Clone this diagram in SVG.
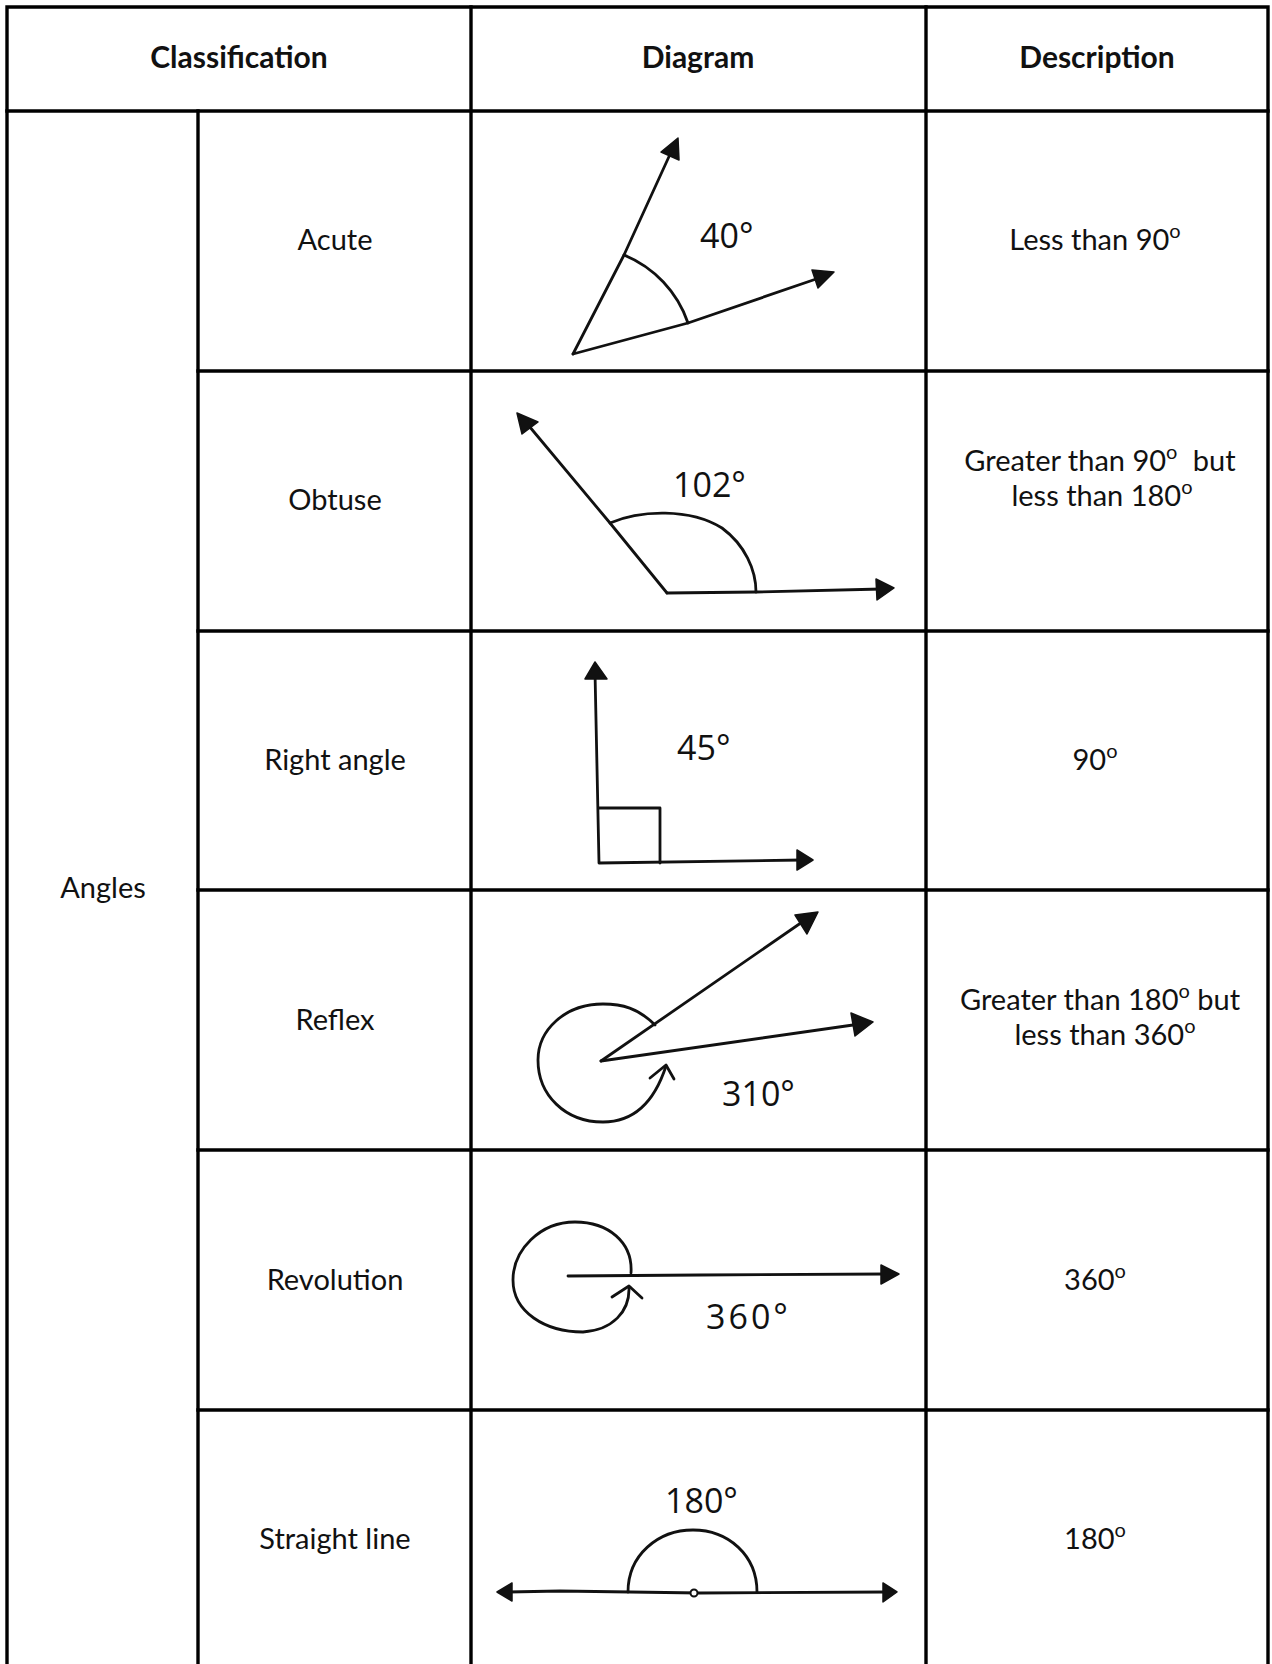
<svg xmlns="http://www.w3.org/2000/svg" width="1272" height="1664" viewBox="0 0 1272 1664">
<style>
.grid{stroke:#000;stroke-width:3.4;fill:none;stroke-linecap:square}
.hd{font-family:Lato,"Open Sans","Noto Sans",sans-serif;font-weight:bold;font-size:30px;fill:#111;text-anchor:middle}
.tx{font-family:Lato,"Open Sans","Noto Sans",sans-serif;font-size:29px;fill:#111;text-anchor:middle}
.sup{font-size:20px}
.ink{stroke:#111;stroke-width:2.8;fill:none;stroke-linecap:round;stroke-linejoin:round}
.head{fill:#111;stroke:#111;stroke-width:1.5;stroke-linejoin:round}
.hw{font-family:"Open Sans","DejaVu Sans",sans-serif;font-weight:normal;font-size:34px;fill:#111}
</style>
<rect width="1272" height="1664" fill="#fff"/>
<g id="table-grid" class="grid">
  <path d="M7,1664 V7 H1268 V1664"/>
  <path d="M7,111 H1268"/>
  <path d="M198,111 V1664"/>
  <path d="M471,7 V1664"/>
  <path d="M926,7 V1664"/>
  <path d="M198,371 H1268 M198,631 H1268 M198,890 H1268 M198,1150 H1268 M198,1410 H1268"/>
</g>
<g id="header">
  <text class="hd" x="239" y="68">Classification</text>
  <text class="hd" x="698" y="68">Diagram</text>
  <text class="hd" x="1097" y="68">Description</text>
</g>
<g id="angles-label">
  <text class="tx" x="103" y="898">Angles</text>
</g>
<g id="row-acute">
  <text class="tx" x="335" y="250">Acute</text>
  <g id="diagram-acute">
    <polyline class="ink" points="573,354 624,255 672,150"/>
    <polyline class="ink" points="573,354 688,323 822,277"/>
    <path class="ink" d="M624,255 A113 113 0 0 1 688,323"/>
    <polygon class="head" points="678,138 679,160 661,152"/>
    <polygon class="head" points="834,272 818,288 812,270"/>
    <text class="hw" x="700" y="248" font-size="37">40°</text>
  </g>
  <text class="tx" x="1095" y="250">Less than 90<tspan class="sup" dy="-12">o</tspan></text>
</g>
<g id="row-obtuse">
  <text class="tx" x="335" y="510">Obtuse</text>
  <g id="diagram-obtuse">
    <polyline class="ink" points="667,593 610,523 524,420"/>
    <polyline class="ink" points="667,593 756,592 882,589"/>
    <path class="ink" d="M610,523 C640,510 690,508 722,528 C745,545 756,570 756,592"/>
    <polygon class="head" points="517,413 538,422 522,434"/>
    <polygon class="head" points="894,588 876,579 877,600"/>
    <text class="hw" x="673" y="497" font-size="32">102°</text>
  </g>
  <text class="tx" x="1100" y="471">Greater than 90<tspan class="sup" dy="-12">o</tspan><tspan dy="12" dx="8"> but</tspan></text>
  <text class="tx" x="1102" y="506">less than 180<tspan class="sup" dy="-12">o</tspan></text>
</g>
<g id="row-right">
  <text class="tx" x="335" y="770">Right angle</text>
  <g id="diagram-right">
    <polyline class="ink" points="595,672 599,863 802,860"/>
    <polyline class="ink" points="599,808 660,808 660,863"/>
    <polygon class="head" points="595,662 607,679 585,679"/>
    <polygon class="head" points="813,860 797,870 797,850"/>
    <text class="hw" x="677" y="760" font-size="31">45°</text>
  </g>
  <text class="tx" x="1095" y="770">90<tspan class="sup" dy="-12">o</tspan></text>
</g>
<g id="row-reflex">
  <text class="tx" x="335" y="1030">Reflex</text>
  <g id="diagram-reflex">
    <polyline class="ink" points="601,1061 808,918"/>
    <polyline class="ink" points="601,1061 860,1024"/>
    <path class="ink" d="M655,1025 C638,1008 622,1004 603,1004 C565,1004 538,1030 538,1060 C538,1095 565,1122 603,1122 C635,1122 655,1100 666,1066"/>
    <polyline class="ink" points="650,1078 666,1065 674,1079"/>
    <polygon class="head" points="818,912 807,934 795,915"/>
    <polygon class="head" points="873,1022 855,1036 851,1013"/>
    <text class="hw" x="722" y="1106" font-size="31">310°</text>
  </g>
  <text class="tx" x="1100" y="1010">Greater than 180<tspan class="sup" dy="-12">o</tspan><tspan dy="12"> but</tspan></text>
  <text class="tx" x="1105" y="1045">less than 360<tspan class="sup" dy="-12">o</tspan></text>
</g>
<g id="row-revolution">
  <text class="tx" x="335" y="1290">Revolution</text>
  <g id="diagram-revolution">
    <polyline class="ink" points="568,1276 700,1275 887,1274"/>
    <path class="ink" d="M631,1273 C633,1242 608,1222 575,1222 C540,1222 513,1250 513,1280 C513,1312 545,1332 583,1332 C612,1330 630,1312 629,1287"/>
    <polyline class="ink" points="612,1297 629,1286 642,1298"/>
    <polygon class="head" points="899,1274 881,1265 881,1284"/>
    <text class="hw" x="706" y="1329" font-size="35" letter-spacing="3">360°</text>
  </g>
  <text class="tx" x="1095" y="1290">360<tspan class="sup" dy="-12">o</tspan></text>
</g>
<g id="row-straight">
  <text class="tx" x="335" y="1549">Straight line</text>
  <g id="diagram-straight">
    <polyline class="ink" points="508,1592 560,1591 700,1593 886,1592"/>
    <path class="ink" d="M628,1592 C628,1555 658,1530 693,1530 C728,1530 757,1555 757,1592"/>
    <circle cx="694" cy="1593" r="3.5" fill="#fff" stroke="#111" stroke-width="2"/>
    <polygon class="head" points="497,1592 512,1583 512,1601"/>
    <polygon class="head" points="897,1592 883,1583 883,1602"/>
    <text class="hw" x="665" y="1513" font-size="37">180°</text>
  </g>
  <text class="tx" x="1095" y="1549">180<tspan class="sup" dy="-12">o</tspan></text>
</g>
</svg>
